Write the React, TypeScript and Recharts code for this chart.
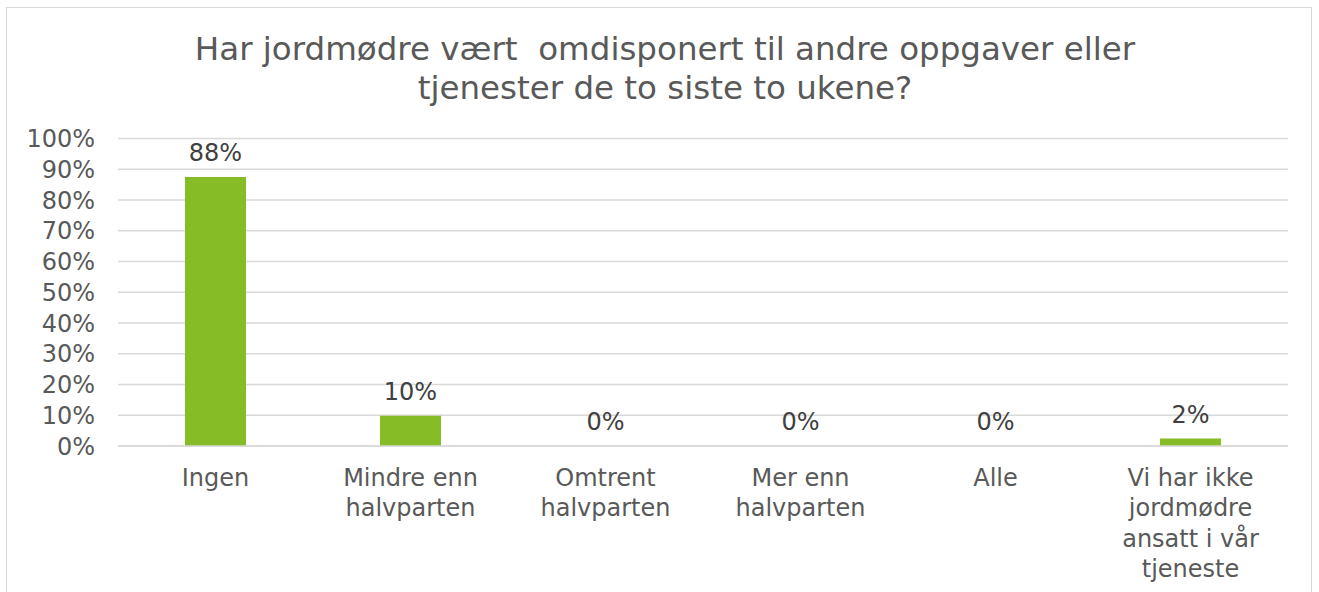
import React from "react";
import { ComposedChart, Bar, Line, XAxis, YAxis, CartesianGrid } from "recharts";

const categories = [
  "Ingen",
  "Mindre enn halvparten",
  "Omtrent halvparten",
  "Mer enn halvparten",
  "Alle",
  "Vi har ikke jordmødre ansatt i vår tjeneste",
];
const categoryLines = [
  ["Ingen"],
  ["Mindre enn", "halvparten"],
  ["Omtrent", "halvparten"],
  ["Mer enn", "halvparten"],
  ["Alle"],
  ["Vi har ikke", "jordmødre", "ansatt i vår", "tjeneste"],
];
const shares = [0.875, 0.098, 0, 0, 0, 0.024];
const yTicks = [0, 0.1, 0.2, 0.3, 0.4, 0.5, 0.6, 0.7, 0.8, 0.9, 1];
const titleLines = [
  "Har jordmødre vært  omdisponert til andre oppgaver eller",
  "tjenester de to siste to ukene?",
];

const data = categories.map((c, i) => ({ name: c, value: shares[i] }));

const FONT = "'DejaVu Sans', Verdana, sans-serif";
const GRAY = "#595959";

const XTick = (props: any) => {
  const { x, y, payload } = props;
  const lines = categoryLines[payload.index] || [String(payload.value)];
  return (
    <text x={x} y={y + 32} textAnchor="middle" fill={GRAY} fontSize={24} fontFamily={FONT}>
      {lines.map((l: string, i: number) => (
        <tspan key={i} x={x} dy={i === 0 ? 0 : 30.3} style={{ whiteSpace: "pre" }}>
          {l}
        </tspan>
      ))}
    </text>
  );
};

const ValueLabel = (props: any) => {
  const { x, y, value } = props;
  if (x == null || y == null) return null;
  return (
    <text x={x} y={y - 16} textAnchor="middle" fill="#404040" fontSize={24} fontFamily={FONT}>
      {`${Math.round(Number(value) * 100)}%`}
    </text>
  );
};

export default function App() {
  return (
    <div style={{ position: "absolute", left: 0, top: 0, width: 1319, height: 592, background: "#fff", overflow: "hidden" }}>
      <div
        style={{
          position: "absolute",
          left: 6,
          top: 7,
          width: 1304,
          height: 600,
          border: "1px solid #D9D9D9",
        }}
      />
      {titleLines.map((t, i) => (
        <div
          key={i}
          style={{
            position: "absolute",
            left: 5.5,
            width: 1319,
            top: i === 0 ? 30.7 : 69.7,
            lineHeight: "36px",
            textAlign: "center",
            fontFamily: FONT,
            fontSize: 32.5,
            color: GRAY,
            whiteSpace: "pre",
          }}
        >
          {t}
        </div>
      ))}
      <div style={{ position: "absolute", left: 0, top: 0 }}>
        <ComposedChart
          width={1319}
          height={592}
          data={data}
          margin={{ top: 138.5, right: 31, bottom: 0, left: 0 }}
          barSize={61}
        >
          <CartesianGrid vertical={false} stroke="#D9D9D9" strokeWidth={1.3} />
          <XAxis
            dataKey="name"
            axisLine={{ stroke: "#D9D9D9", strokeWidth: 1.3 }}
            tickLine={false}
            interval={0}
            height={146}
            tick={<XTick />}
          />
          <YAxis
            width={118}
            domain={[0, 1]}
            ticks={yTicks}
            interval={0}
            axisLine={false}
            tickLine={false}
            tickMargin={17}
            tickFormatter={(v: number) => `${Math.round(v * 100)}%`}
            tick={{ fill: GRAY, fontSize: 24, fontFamily: FONT }}
          />
          <Bar dataKey="value" fill="#86BC25" isAnimationActive={false} />
          <Line
            dataKey="value"
            stroke="none"
            dot={false}
            activeDot={false}
            legendType="none"
            isAnimationActive={false}
            label={<ValueLabel />}
          />
        </ComposedChart>
      </div>
    </div>
  );
}
